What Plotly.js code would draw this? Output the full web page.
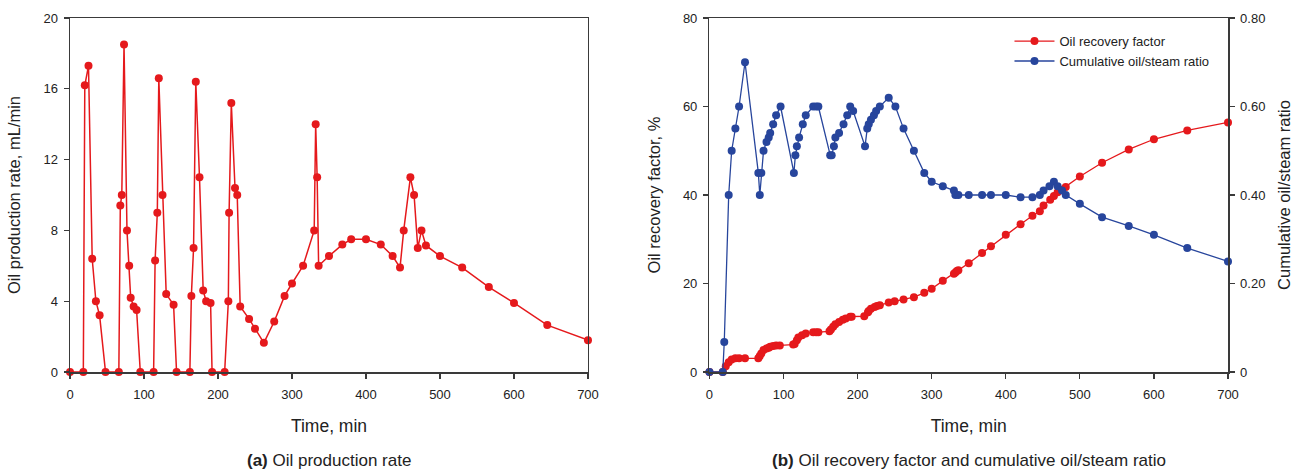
<!DOCTYPE html>
<html>
<head>
<meta charset="utf-8">
<script src="https://cdn.plot.ly/plotly-3.0.1.min.js"></script>
<style>
  html, body { margin: 0; padding: 0; background: #fff; }
  #chart { width: 1297px; height: 471px; }
</style>
</head>
<body>
<div id="chart"></div>
<script>
// (a) Oil production rate, mL/min, against time, min
const rateTime = [0, 18, 20, 25, 30, 35, 40, 48, 66, 68, 70, 73, 77, 80, 82, 86, 90, 95,
  113, 115, 118, 120, 125, 130, 140, 144, 162, 164, 167, 170, 175, 180, 184, 190, 192,
  209, 214, 215, 218, 223, 226, 230, 242, 250, 262, 276, 290, 300, 315, 330, 332, 334, 336,
  350, 368, 380, 400, 420, 436, 446, 451, 460, 465, 470, 475, 481, 500, 530, 566, 600, 645, 700];
const rateValues = [0, 0, 16.2, 17.3, 6.4, 4.0, 3.2, 0, 0, 9.4, 10.0, 18.5, 8.0, 6.0, 4.2, 3.7, 3.5, 0,
  0, 6.3, 9.0, 16.6, 10.0, 4.4, 3.8, 0, 0, 4.3, 7.0, 16.4, 11.0, 4.6, 4.0, 3.9, 0,
  0, 4.0, 9.0, 15.2, 10.4, 10.0, 3.7, 3.0, 2.45, 1.65, 2.85, 4.3, 5.0, 6.0, 8.0, 14.0, 11.0, 6.0,
  6.55, 7.2, 7.5, 7.5, 7.2, 6.55, 5.9, 8.0, 11.0, 10.0, 7.0, 8.0, 7.15, 6.55, 5.9, 4.8, 3.9, 2.65, 1.8];

// (b) Oil recovery factor, %, against time, min
const rfTime = [0, 18, 22, 26, 30, 35, 40, 48, 66, 68, 70, 73, 77, 80, 82, 86, 90, 95,
  113, 115, 118, 120, 125, 130, 140, 144, 147, 162, 164, 167, 170, 175, 180, 184, 190, 192,
  209, 214, 215, 218, 223, 226, 230, 242, 250, 262, 276, 290, 300, 315, 330, 332, 334, 336,
  350, 368, 380, 400, 420, 436, 446, 451, 460, 465, 470, 475, 481, 500, 530, 566, 600, 645, 700];
const rfValues = [0, 0, 1.3, 2.2, 2.8, 3.1, 3.1, 3.1, 3.1, 3.6, 4.2, 5.0, 5.3, 5.5, 5.7, 5.9, 6.0, 6.0,
  6.2, 6.3, 7.2, 7.8, 8.3, 8.7, 9.0, 9.0, 9.0, 9.2, 9.6, 10.2, 10.8, 11.3, 11.8, 12.1, 12.5, 12.5,
  12.6, 13.5, 13.8, 14.3, 14.7, 14.9, 15.1, 15.7, 16.0, 16.4, 16.9, 17.9, 18.8, 20.6, 22.2, 22.5, 22.8, 23.0,
  24.6, 26.9, 28.4, 31.0, 33.4, 35.3, 36.3, 37.6, 38.9, 39.8, 40.6, 41.2, 41.8, 44.2, 47.3, 50.3, 52.6, 54.6, 56.4];

// (b) Cumulative oil/steam ratio against time, min
const osrTime = [0, 18, 20, 26, 30, 35, 40, 48, 66, 68, 70, 73, 77, 80, 82, 86, 90, 96,
  114, 116, 118, 121, 126, 130, 140, 144, 147, 163, 165, 168, 170, 175, 181, 186, 190, 194,
  210, 213, 215, 218, 222, 225, 230, 242, 251, 262, 276, 290, 300, 315, 330, 332, 336,
  350, 368, 380, 400, 420, 436, 446, 451, 459, 465, 470, 476, 481, 500, 530, 566, 600, 645, 700];
const osrValues = [0, 0, 0.068, 0.40, 0.50, 0.55, 0.60, 0.70, 0.45, 0.40, 0.45, 0.50, 0.52, 0.53, 0.54, 0.56, 0.58, 0.60,
  0.45, 0.49, 0.51, 0.53, 0.56, 0.58, 0.60, 0.60, 0.60, 0.49, 0.49, 0.51, 0.53, 0.54, 0.56, 0.58, 0.60, 0.59,
  0.51, 0.55, 0.56, 0.57, 0.58, 0.59, 0.60, 0.62, 0.60, 0.55, 0.50, 0.45, 0.43, 0.42, 0.41, 0.40, 0.40,
  0.40, 0.40, 0.40, 0.40, 0.395, 0.395, 0.40, 0.41, 0.42, 0.43, 0.42, 0.41, 0.40, 0.38, 0.35, 0.33, 0.31, 0.28, 0.25];

const xTicks = [0, 100, 200, 300, 400, 500, 600, 700];
const rateTicks = [0, 4, 8, 12, 16, 20];
const rfTicks = [0, 20, 40, 60, 80];
const osrTicks = [0, 0.2, 0.4, 0.6, 0.8];
const osrTickText = ['0', '0.20', '0.40', '0.60', '0.80'];

const RED = '#e5191c';
const BLUE = '#27459c';
const AXIS = '#3a3a3a';
const TEXT = '#222';
const FONT = 'Arial, "Liberation Sans", Helvetica, sans-serif';
const TICKFONT = { family: FONT, size: 13, color: TEXT };

const traces = [
  {
    x: rateTime, y: rateValues, xaxis: 'x', yaxis: 'y',
    type: 'scatter', mode: 'lines+markers', showlegend: false, cliponaxis: false,
    line: { color: RED, width: 1.5 },
    marker: { color: RED, size: 8 }
  },
  {
    name: 'Oil recovery factor',
    x: rfTime, y: rfValues, xaxis: 'x2', yaxis: 'y2',
    type: 'scatter', mode: 'lines+markers', cliponaxis: false,
    line: { color: RED, width: 1.3 },
    marker: { color: RED, size: 8 }
  },
  {
    name: 'Cumulative oil/steam ratio',
    x: osrTime, y: osrValues, xaxis: 'x2', yaxis: 'y3',
    type: 'scatter', mode: 'lines+markers', cliponaxis: false,
    line: { color: BLUE, width: 1.3 },
    marker: { color: BLUE, size: 8 }
  }
];

function xAxis(domain, anchor) {
  return {
    domain: domain, anchor: anchor, range: [0, 700],
    tickvals: xTicks, ticks: 'outside', ticklen: 5, tickwidth: 1.2, tickcolor: AXIS,
    ticklabelstandoff: 5,
    showline: true, linecolor: AXIS, linewidth: 1.5, mirror: true,
    showgrid: false, zeroline: false,
    tickfont: TICKFONT,
    title: { text: 'Time, min', font: { family: FONT, size: 17.5, color: TEXT }, standoff: 18 }
  };
}

const layout = {
  width: 1297, height: 471,
  margin: { l: 70, r: 69, t: 18, b: 99 },
  paper_bgcolor: '#fff', plot_bgcolor: '#fff',
  font: { family: FONT, color: TEXT },
  showlegend: true,
  legend: {
    x: 0.8113, y: 0.977, xanchor: 'left', yanchor: 'top',
    bgcolor: 'rgba(0,0,0,0)', borderwidth: 0,
    font: { family: FONT, size: 13, color: TEXT },
    tracegroupgap: 0, itemwidth: 40
  },
  xaxis: xAxis([0, 0.4473], 'y'),
  xaxis2: xAxis([0.5522, 1], 'y2'),
  yaxis: {
    anchor: 'x', range: [0, 20], tickvals: rateTicks,
    ticks: 'outside', ticklen: 5, tickwidth: 1.2, tickcolor: AXIS,
    ticklabelstandoff: 3,
    showline: true, linecolor: AXIS, linewidth: 1.5, mirror: true,
    showgrid: false, zeroline: false,
    tickfont: TICKFONT,
    title: { text: 'Oil production rate, mL/min', font: { family: FONT, size: 16.5, color: TEXT }, standoff: 18 }
  },
  yaxis2: {
    anchor: 'x2', range: [0, 80], tickvals: rfTicks,
    ticks: 'outside', ticklen: 5, tickwidth: 1.2, tickcolor: AXIS,
    ticklabelstandoff: 3,
    showline: true, linecolor: AXIS, linewidth: 1.5,
    showgrid: false, zeroline: false,
    tickfont: TICKFONT,
    title: { text: 'Oil recovery factor, %', font: { family: FONT, size: 16.5, color: TEXT }, standoff: 18 }
  },
  yaxis3: {
    anchor: 'x2', overlaying: 'y2', side: 'right', range: [0, 0.8],
    tickvals: osrTicks, ticktext: osrTickText,
    ticks: 'outside', ticklen: 5, tickwidth: 1.2, tickcolor: AXIS,
    ticklabelstandoff: 3,
    showline: true, linecolor: AXIS, linewidth: 1.5,
    showgrid: false, zeroline: false,
    tickfont: TICKFONT,
    title: { text: 'Cumulative oil/steam ratio', font: { family: FONT, size: 16.5, color: TEXT }, standoff: 14 }
  },
  annotations: [
    {
      text: '<b>(a)</b> Oil production rate', xref: 'paper', yref: 'paper',
      x: 0.2237, y: -0.2486, xanchor: 'center', yanchor: 'middle', showarrow: false,
      font: { family: FONT, size: 17, color: TEXT }
    },
    {
      text: '<b>(b)</b> Oil recovery factor and cumulative oil/steam ratio', xref: 'paper', yref: 'paper',
      x: 0.7761, y: -0.2486, xanchor: 'center', yanchor: 'middle', showarrow: false,
      font: { family: FONT, size: 17, color: TEXT }
    }
  ]
};

Plotly.newPlot('chart', traces, layout, { displayModeBar: false, staticPlot: true });
</script>
</body>
</html>
